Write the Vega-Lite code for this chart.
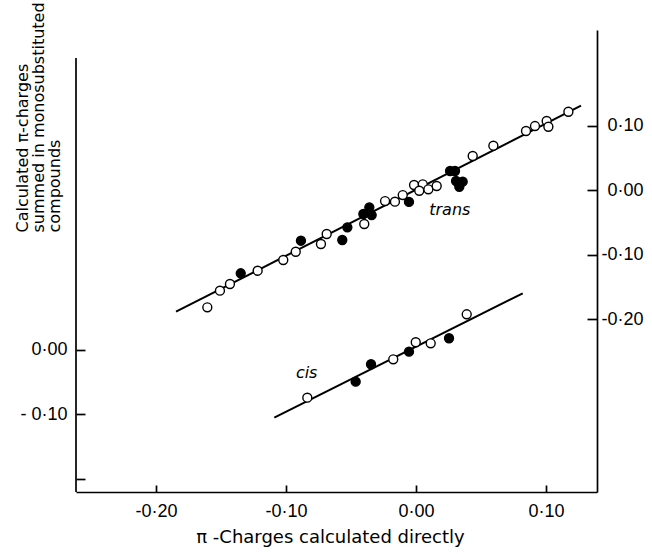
{
  "$schema": "https://vega.github.io/schema/vega-lite/v6.json",
  "width": 521,
  "height": 462,
  "autosize": "none",
  "padding": {"left": 76, "top": 30, "right": 55, "bottom": 62},
  "background": "white",
  "config": {
    "view": {"stroke": null},
    "font": "DejaVu Sans",
    "axis": {
      "grid": false,
      "domainColor": "black",
      "tickColor": "black",
      "labelColor": "black",
      "titleColor": "black",
      "domainWidth": 1.7,
      "tickWidth": 1.7,
      "labelFont": "Liberation Sans",
      "labelFontSize": 18,
      "titleFont": "DejaVu Sans",
      "titleFontSize": 16,
      "titleFontWeight": "normal"
    }
  },
  "datasets": {
    "trans": [
      {"x": -0.1605, "y": -0.1819, "kind": "open"},
      {"x": -0.1508, "y": -0.1561, "kind": "open"},
      {"x": -0.1431, "y": -0.1457, "kind": "open"},
      {"x": -0.1218, "y": -0.1251, "kind": "open"},
      {"x": -0.1021, "y": -0.1085, "kind": "open"},
      {"x": -0.0925, "y": -0.0957, "kind": "open"},
      {"x": -0.0731, "y": -0.0837, "kind": "open"},
      {"x": -0.0687, "y": -0.0682, "kind": "open"},
      {"x": -0.0398, "y": -0.0527, "kind": "open"},
      {"x": -0.0238, "y": -0.0171, "kind": "open"},
      {"x": -0.0162, "y": -0.0181, "kind": "open"},
      {"x": -0.0102, "y": -0.0078, "kind": "open"},
      {"x": -0.0015, "y": 0.0078, "kind": "open"},
      {"x": 0.0052, "y": 0.0088, "kind": "open"},
      {"x": 0.0025, "y": -0.0011, "kind": "open"},
      {"x": 0.0095, "y": 0.0011, "kind": "open"},
      {"x": 0.0159, "y": 0.0062, "kind": "open"},
      {"x": 0.0436, "y": 0.0527, "kind": "open"},
      {"x": 0.0595, "y": 0.0687, "kind": "open"},
      {"x": 0.0846, "y": 0.0915, "kind": "open"},
      {"x": 0.0915, "y": 0.0992, "kind": "open"},
      {"x": 0.1005, "y": 0.107, "kind": "open"},
      {"x": 0.1018, "y": 0.0981, "kind": "open"},
      {"x": 0.1172, "y": 0.1214, "kind": "open"},
      {"x": -0.1348, "y": -0.1291, "kind": "filled"},
      {"x": -0.0885, "y": -0.0786, "kind": "filled"},
      {"x": -0.0567, "y": -0.0775, "kind": "filled"},
      {"x": -0.0528, "y": -0.0578, "kind": "filled"},
      {"x": -0.0359, "y": -0.0268, "kind": "filled"},
      {"x": -0.0405, "y": -0.0372, "kind": "filled"},
      {"x": -0.0341, "y": -0.0388, "kind": "filled"},
      {"x": -0.0054, "y": -0.0185, "kind": "filled"},
      {"x": 0.0262, "y": 0.0295, "kind": "filled"},
      {"x": 0.03, "y": 0.0295, "kind": "filled"},
      {"x": 0.0308, "y": 0.014, "kind": "filled"},
      {"x": 0.0359, "y": 0.0129, "kind": "filled"},
      {"x": 0.0333, "y": 0.0051, "kind": "filled"}
    ],
    "cis": [
      {"x": -0.0836, "y": -0.0747, "kind": "open"},
      {"x": -0.0175, "y": -0.0152, "kind": "open"},
      {"x": -0.0002, "y": 0.0112, "kind": "open"},
      {"x": 0.0113, "y": 0.0096, "kind": "open"},
      {"x": 0.039, "y": 0.0546, "kind": "open"},
      {"x": -0.0464, "y": -0.0499, "kind": "filled"},
      {"x": -0.0346, "y": -0.0229, "kind": "filled"},
      {"x": -0.0054, "y": -0.0034, "kind": "filled"},
      {"x": 0.0254, "y": 0.0174, "kind": "filled"}
    ],
    "transFit": [
      {"x": -0.1846, "y": -0.1887},
      {"x": 0.1269, "y": 0.1307}
    ],
    "cisFit": [
      {"x": -0.109, "y": -0.1057},
      {"x": 0.0821, "y": 0.0871}
    ],
    "transLabel": [{"x": 0.026, "y": -0.031, "label": "trans"}],
    "cisLabel": [{"x": -0.0841, "y": -0.0367, "label": "cis"}],
    "leftAxisLine": [{"x": -0.2615, "y": -0.2209, "y2": 0.452}]
  },
  "layer": [
    {
      "layer": [
        {
          "data": {"name": "leftAxisLine"},
          "mark": {"type": "rule", "color": "black", "strokeWidth": 1.7},
          "encoding": {
            "x": {"field": "x", "type": "quantitative"},
            "y": {"field": "y", "type": "quantitative"},
            "y2": {"field": "y2"}
          }
        },
        {
          "data": {"name": "cisFit"},
          "mark": {"type": "line", "color": "black", "strokeWidth": 2},
          "encoding": {
            "x": {
              "field": "x", "type": "quantitative",
              "scale": {"domain": [-0.2615, 0.1392], "nice": false, "zero": false},
              "axis": {
                "orient": "bottom",
                "values": [-0.2, -0.1, 0, 0.1],
                "tickSize": -7,
                "labelPadding": 17,
                "labelExpr": "datum.value < -0.15 ? '-0·20' : datum.value < -0.05 ? '-0·10' : datum.value < 0.05 ? '0·00' : '0·10'",
                "title": "π -Charges  calculated  directly",
                "titleFontSize": 18,
                "titleBaseline": "middle",
                "titleY": 45,
                "titleX": 254
              }
            },
            "y": {
              "field": "y", "type": "quantitative",
              "scale": {"domain": [-0.2209, 0.4953], "nice": false, "zero": false},
              "axis": {
                "orient": "left",
                "values": [-0.2, -0.1, 0],
                "domain": false,
                "tickSize": -9,
                "labelPadding": 18,
                "labelExpr": "datum.value < -0.15 ? '' : datum.value < -0.05 ? '- 0·10' : '0·00'",
                "title": ["Calculated π-charges", "summed in monosubstituted", "compounds"],
                "titleAngle": -90,
                "titleAlign": "left",
                "titleBaseline": "top",
                "titleLineHeight": 16,
                "titleX": -62,
                "titleY": 202
              }
            }
          }
        },
        {
          "data": {"name": "cis"},
          "mark": {"type": "point", "shape": "circle", "filled": true, "stroke": "black", "strokeWidth": 1.4, "size": 80, "opacity": 1},
          "encoding": {
            "x": {"field": "x", "type": "quantitative"},
            "y": {"field": "y", "type": "quantitative"},
            "fill": {"field": "kind", "type": "nominal", "scale": {"domain": ["open", "filled"], "range": ["white", "black"]}, "legend": null}
          }
        },
        {
          "data": {"name": "cisLabel"},
          "mark": {"type": "text", "fontStyle": "italic", "fontSize": 16, "font": "DejaVu Sans", "color": "black"},
          "encoding": {
            "x": {"field": "x", "type": "quantitative"},
            "y": {"field": "y", "type": "quantitative"},
            "text": {"field": "label"}
          }
        }
      ]
    },
    {
      "layer": [
        {
          "data": {"name": "transFit"},
          "mark": {"type": "line", "color": "black", "strokeWidth": 2},
          "encoding": {
            "x": {"field": "x", "type": "quantitative"},
            "y": {
              "field": "y", "type": "quantitative",
              "scale": {"domain": [-0.4682, 0.2481], "nice": false, "zero": false},
              "axis": {
                "orient": "right",
                "values": [-0.2, -0.1, 0, 0.1],
                "tickSize": -10,
                "labelPadding": 56,
                "labelAlign": "right",
                "labelExpr": "datum.value < -0.15 ? '-0·20' : datum.value < -0.05 ? '-0·10' : datum.value < 0.05 ? '0·00' : '0·10'",
                "title": null
              }
            }
          }
        },
        {
          "data": {"name": "trans"},
          "mark": {"type": "point", "shape": "circle", "filled": true, "stroke": "black", "strokeWidth": 1.4, "size": 80, "opacity": 1},
          "encoding": {
            "x": {"field": "x", "type": "quantitative"},
            "y": {"field": "y", "type": "quantitative"},
            "fill": {"field": "kind", "type": "nominal", "scale": {"domain": ["open", "filled"], "range": ["white", "black"]}, "legend": null}
          }
        },
        {
          "data": {"name": "transLabel"},
          "mark": {"type": "text", "fontStyle": "italic", "fontSize": 16, "font": "DejaVu Sans", "color": "black"},
          "encoding": {
            "x": {"field": "x", "type": "quantitative"},
            "y": {"field": "y", "type": "quantitative"},
            "text": {"field": "label"}
          }
        }
      ]
    }
  ],
  "resolve": {"scale": {"y": "independent"}, "axis": {"y": "independent"}}
}
